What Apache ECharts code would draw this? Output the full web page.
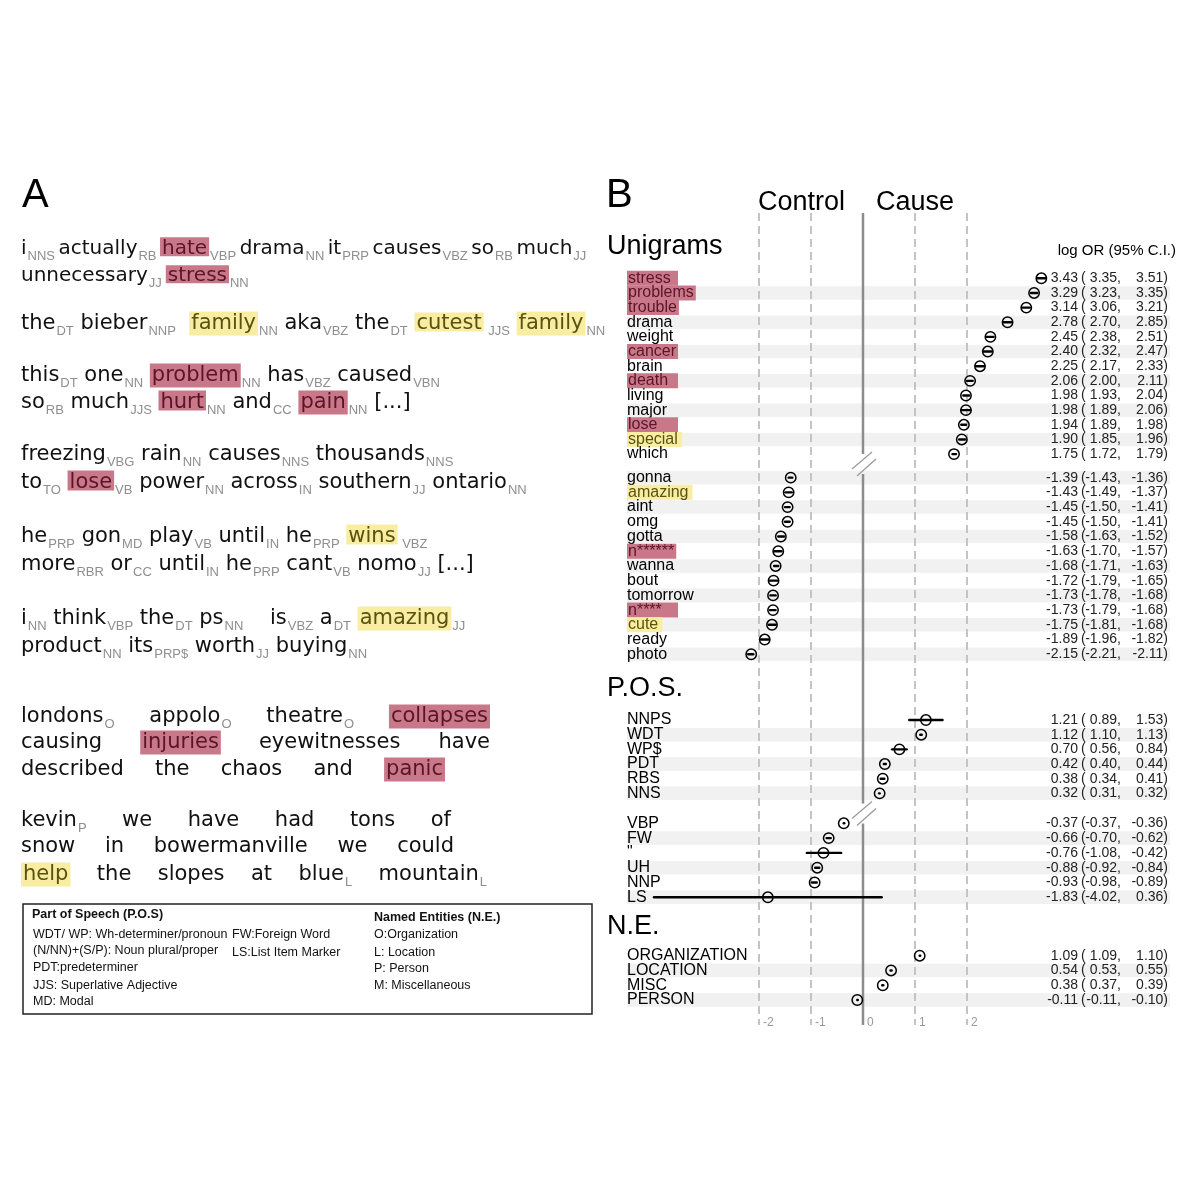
<!DOCTYPE html>
<html><head><meta charset="utf-8">
<script src="https://cdn.jsdelivr.net/npm/echarts@6/dist/echarts.min.js"></script>
<style>html,body{margin:0;padding:0;background:#fff}#c{width:1200px;height:1200px}</style>
</head><body><div id="c"></div>
<script>
// ================= DATA: Panel B =================
const uniPosLabels = ['stress','problems','trouble','drama','weight','cancer','brain','death','living','major','lose','special','which'];
const uniPosEst = [3.43,3.29,3.14,2.78,2.45,2.40,2.25,2.06,1.98,1.98,1.94,1.90,1.75];
const uniPosLo  = [3.35,3.23,3.06,2.70,2.38,2.32,2.17,2.00,1.93,1.89,1.89,1.85,1.72];
const uniPosHi  = [3.51,3.35,3.21,2.85,2.51,2.47,2.33,2.11,2.04,2.06,1.98,1.96,1.79];
const uniPosHl  = ['r','r','r','','','r','','r','','','r','y',''];

const uniNegLabels = ['gonna','amazing','aint','omg','gotta','n******','wanna','bout','tomorrow','n****','cute','ready','photo'];
const uniNegEst = [-1.39,-1.43,-1.45,-1.45,-1.58,-1.63,-1.68,-1.72,-1.73,-1.73,-1.75,-1.89,-2.15];
const uniNegLo  = [-1.43,-1.49,-1.50,-1.50,-1.63,-1.70,-1.71,-1.79,-1.78,-1.79,-1.81,-1.96,-2.21];
const uniNegHi  = [-1.36,-1.37,-1.41,-1.41,-1.52,-1.57,-1.63,-1.65,-1.68,-1.68,-1.68,-1.82,-2.11];
const uniNegHl  = ['','y','','','','r','','','','r','y','',''];

const posPosLabels = ['NNPS','WDT','WP$','PDT','RBS','NNS'];
const posPosEst = [1.21,1.12,0.70,0.42,0.38,0.32];
const posPosLo  = [0.89,1.10,0.56,0.40,0.34,0.31];
const posPosHi  = [1.53,1.13,0.84,0.44,0.41,0.32];

const posNegLabels = ['VBP','FW','"','UH','NNP','LS'];
const posNegEst = [-0.37,-0.66,-0.76,-0.88,-0.93,-1.83];
const posNegLo  = [-0.37,-0.70,-1.08,-0.92,-0.98,-4.02];
const posNegHi  = [-0.36,-0.62,-0.42,-0.84,-0.89,0.36];

const neLabels = ['ORGANIZATION','LOCATION','MISC','PERSON'];
const neEst = [1.09,0.54,0.38,-0.11];
const neLo  = [1.09,0.53,0.37,-0.11];
const neHi  = [1.10,0.55,0.39,-0.10];

const axisTicks = [-2,-1,0,1,2];

// ================= DATA: Panel A (token = [word, tag, highlight]) =================
const textLinesA = [
  [['i','NNS'],['actually','RB'],['hate','VBP','r'],['drama','NN'],['it','PRP'],['causes','VBZ'],['so','RB'],['much','JJ']],
  [['unnecessary','JJ'],['stress','NN','r']],
  [['the','DT'],['bieber','NNP'],[' family','NN','y'],['aka','VBZ'],['the','DT'],['cutest',' JJS','y'],['family','NN','y']],
  [['this','DT'],['one','NN'],['problem','NN','r'],['has','VBZ'],['caused','VBN']],
  [['so','RB'],['much','JJS'],['hurt','NN','r'],['and','CC'],['pain','NN','r'],['[...]','']],
  [['freezing','VBG'],['rain','NN'],['causes','NNS'],['thousands','NNS']],
  [['to','TO'],['lose','VB','r'],['power','NN'],['across','IN'],['southern','JJ'],['ontario','NN']],
  [['he','PRP'],['gon','MD'],['play','VB'],['until','IN'],['he','PRP'],['wins',' VBZ','y']],
  [['more','RBR'],['or','CC'],['until','IN'],['he','PRP'],['cant','VB'],['nomo','JJ'],['[...]','']],
  [['i','NN'],['think','VBP'],['the','DT'],['ps','NN'],['   is','VBZ'],['a','DT'],['amazing','JJ','y']],
  [['product','NN'],['its','PRP$'],['worth','JJ'],['buying','NN']],
  [['londons','O'],['appolo','O'],['theatre','O'],['collapses','','r']],
  [['causing',''],['injuries','','r'],['eyewitnesses',''],['have','']],
  [['described',''],['the',''],['chaos',''],['and',''],['panic','','r']],
  [['kevin','P'],['we',''],['have',''],['had',''],['tons',''],['of','']],
  [['snow',''],['in',''],['bowermanville',''],['we',''],['could','']],
  [['help','','y'],['the',''],['slopes',''],['at',''],['blue','L'],['mountain','L']]
];
const legendPOS = ['WDT/ WP: Wh-determiner/pronoun','(N/NN)+(S/P): Noun plural/proper','PDT:predeterminer','JJS: Superlative Adjective','MD: Modal'];
const legendPOS2 = ['FW:Foreign Word','LS:List Item Marker'];
const legendNE = ['O:Organization','L: Location','P: Person','M: Miscellaneous'];

// ================= LAYOUT / STYLE =================
const SANS = '"Liberation Sans", Arial, sans-serif';
const TAGF = '13px "Liberation Sans"';
const RED = '#c97889', YEL = '#f8eda0';
const RED_T = '#5b1526', YEL_T = '#5a5212';
const lineY = [249,276,324,376,403,455,483,537,565,619,647,717,743,770,821,847,875];
const lineFontPx = [20,20,21,21,21,21,21,21,21,21,21,21,21,21,21,21,21];
const lineGapOverride = {0: 3.5, 1: 4};
const justifyRight = {11:490,12:490,13:445,14:451,15:454,16:487};

const mctx = document.createElement('canvas').getContext('2d');
function meas(t, f){ mctx.font = f; mctx.textBaseline = 'middle'; return mctx.measureText(t); }

const graphics = [];
function txt(text, x, y, font, fill, align){
  graphics.push({type:'text', silent:true, style:{text, x, y, font, fill: fill||'#000',
    textAlign: align||'left', align: align||'left', textVerticalAlign:'middle', verticalAlign:'middle'}});
}
// Panel A text
textLinesA.forEach((tokens, li) => {
  const y = lineY[li];
  const WORDF = lineFontPx[li] + 'px "DejaVu Sans"';
  const x0 = 21;
  const spaceW = meas(' ', WORDF).width;
  const items = tokens.map(([raw, tag, hl]) => {
    const lead = raw.match(/^ */)[0].length;
    const w = raw.slice(lead);
    const m = meas(w, WORDF);
    const tw = tag ? meas(tag, TAGF).width : 0;
    const pad = hl ? 2 : 0;
    return {w, tag, hl, lead: lead * spaceW, ww:m.width, asc:m.actualBoundingBoxAscent, desc:m.actualBoundingBoxDescent, tw, pad,
            total: lead * spaceW + m.width + 2*pad + (tag ? tw + 1 : 0)};
  });
  let gap = lineGapOverride[li] !== undefined ? lineGapOverride[li] : spaceW;
  if (justifyRight[li] !== undefined && items.length > 1) {
    const sum = items.reduce((a, b) => a + b.total, 0);
    gap = (justifyRight[li] - x0 - sum) / (items.length - 1);
  }
  let x = x0;
  items.forEach(it => {
    const xs = x + it.lead;
    if (it.hl) {
      graphics.push({type:'rect', silent:true, shape:{x: xs, y: y - it.asc - 2, width: it.ww + 2*it.pad, height: it.asc + it.desc + 4},
        style:{fill: it.hl === 'r' ? RED : YEL}});
    }
    txt(it.w, xs + it.pad, y, WORDF, it.hl === 'r' ? RED_T : (it.hl === 'y' ? YEL_T : '#111'));
    if (it.tag) txt(it.tag, xs + it.ww + 2*it.pad + 1, y + 7, TAGF, '#8e8e8e');
    x += it.total + gap;
  });
});
// Legend box
graphics.push({type:'rect', silent:true, shape:{x:23, y:904, width:569, height:110}, style:{fill:'none', stroke:'#222', lineWidth:1.5}});
txt('Part of Speech (P.O.S)', 32, 915, 'bold 12.5px ' + SANS, '#111');
legendPOS.forEach((t, i) => txt(t, 33, [935,951,968,986,1002][i], '12.5px ' + SANS, '#111'));
legendPOS2.forEach((t, i) => txt(t, 232, [935,953][i], '12.5px ' + SANS, '#111'));
txt('Named Entities (N.E.)', 374, 918, 'bold 12.5px ' + SANS, '#111');
legendNE.forEach((t, i) => txt(t, 374, [935,953,969,986][i], '12.5px ' + SANS, '#111'));
// Titles
txt('A', 22, 196, '40px ' + SANS, '#000');
txt('B', 606, 196, '40px ' + SANS, '#000');
txt('Control', 758, 203, '27px ' + SANS, '#000');
txt('Cause', 876, 203, '27px ' + SANS, '#000');
txt('Unigrams', 607, 247, '27px ' + SANS, '#000');
txt('log OR (95% C.I.)', 1176, 251, '15px ' + SANS, '#000', 'right');
txt('P.O.S.', 607, 689, '27px ' + SANS, '#000');
txt('N.E.', 607, 927, '27px ' + SANS, '#000');

// ================= Panel B grids =================
const GL = 603, GW = 572;
const sections = [
  {labels: uniPosLabels, est: uniPosEst, lo: uniPosLo, hi: uniPosHi, hl: uniPosHl, top: 271,   height: 190.4, parity: 1},
  {labels: uniNegLabels, est: uniNegEst, lo: uniNegLo, hi: uniNegHi, hl: uniNegHl, top: 470.3, height: 191.3, parity: 0},
  {labels: posPosLabels, est: posPosEst, lo: posPosLo, hi: posPosHi, hl: null,     top: 712.7, height: 88,    parity: 1},
  {labels: posNegLabels, est: posNegEst, lo: posNegLo, hi: posNegHi, hl: null,     top: 815.9, height: 88.8,  parity: 1},
  {labels: neLabels,     est: neEst,     lo: neLo,     hi: neHi,     hl: null,     top: 948.3, height: 59.1,  parity: 1}
];
const frame = {top: 213, height: 812};
const breaks = [464, 813.5];

const grids = [{left: GL, width: GW, top: frame.top, height: frame.height}];
const xAxes = [{gridIndex:0, type:'value', min:-5, max:6, interval:1,
  axisLine:{show:false}, axisTick:{show:false}, splitLine:{show:false},
  axisLabel:{show:true, color:'#999', fontSize:12, fontFamily:SANS, align:'left', padding:[0,0,0,4], margin:-8,
    formatter: v => axisTicks.indexOf(v) >= 0 ? String(v) : ''}}];
const yAxes = [{gridIndex:0, type:'value', min:0, max:1, show:false}];
const series = [];

// frame: reference lines
series.push({type:'custom', xAxisIndex:0, yAxisIndex:0, z:2, silent:true, data:[[0,0]],
  renderItem: (params, api) => {
    const cs = params.coordSys;
    const ch = [];
    axisTicks.filter(t => t !== 0).forEach(t => {
      const x = api.coord([t, 0])[0];
      ch.push({type:'line', shape:{x1:x, y1:cs.y, x2:x, y2:cs.y + cs.height}, style:{stroke:'#c4c4c4', lineWidth:2, lineDash:[8,5]}});
    });
    const x0 = api.coord([0, 0])[0];
    const gap = 10;
    const segs = [[cs.y, breaks[0] - gap], [breaks[0] + gap, breaks[1] - gap], [breaks[1] + gap, cs.y + cs.height]];
    segs.forEach(s => ch.push({type:'line', shape:{x1:x0, y1:s[0], x2:x0, y2:s[1]}, style:{stroke:'#8c8c8c', lineWidth:2.5}}));
    breaks.forEach(yb => {
      ch.push({type:'line', shape:{x1:x0-11, y1:yb+5, x2:x0+9, y2:yb-12}, style:{stroke:'#999', lineWidth:1.2}});
      ch.push({type:'line', shape:{x1:x0-6, y1:yb+12, x2:x0+13, y2:yb-5}, style:{stroke:'#999', lineWidth:1.2}});
    });
    return {type:'group', children: ch};
  }});

const hlWidth = (t) => meas(t, '16px "Liberation Sans"').width;
sections.forEach((s, k) => {
  const gi = k + 1;
  grids.push({left: GL, width: GW, top: s.top, height: s.height});
  xAxes.push({gridIndex: gi, type:'value', min:-5, max:6, show:false});
  yAxes.push({gridIndex: gi, type:'category', inverse:true, data: s.labels, z: 10,
    axisLine:{show:false}, axisTick:{show:false}, splitLine:{show:false},
    axisLabel:{inside:true, margin:24, fontSize:16, fontFamily:SANS, color:'#000', interval:0,
      formatter: (v, i) => {
        const h = s.hl ? s.hl[i] : '';
        if (!h) return v;
        const narrow = hlWidth(v) < 46;
        return '{' + h + (narrow ? 'n' : '') + '|' + v + '}';
      },
      rich: {
        r:  {backgroundColor: RED, color: RED_T, fontSize:16, fontFamily:SANS, height:15, padding:[0,2,0,1]},
        rn: {backgroundColor: RED, color: RED_T, fontSize:16, fontFamily:SANS, height:15, width:48, padding:[0,2,0,1]},
        y:  {backgroundColor: YEL, color: YEL_T, fontSize:16, fontFamily:SANS, height:15, padding:[0,4,0,1]},
        yn: {backgroundColor: YEL, color: YEL_T, fontSize:16, fontFamily:SANS, height:15, padding:[0,4,0,1]}
      }}});
  const rows = s.labels.map((l, i) => [s.est[i], s.lo[i], s.hi[i], i]);
  // stripes
  series.push({type:'custom', xAxisIndex: gi, yAxisIndex: gi, z:1, silent:true, data: rows,
    encode:{x:[0,1,2], y:3},
    renderItem: (params, api) => {
      const i = api.value(3);
      if (i % 2 !== s.parity) return null;
      const cs = params.coordSys;
      const y = api.coord([0, i])[1];
      const bh = api.size([0, 1])[1];
      return {type:'rect', shape:{x: cs.x + 24, y: y - bh * 0.46, width: cs.width - 29, height: bh * 0.92}, style:{fill:'#f1f1f1'}};
    }});
  // estimates
  series.push({type:'custom', xAxisIndex: gi, yAxisIndex: gi, z:3, silent:true, data: rows,
    encode:{x:[0,1,2], y:3},
    renderItem: (params, api) => {
      const est = api.value(0), lo = api.value(1), hi = api.value(2), i = api.value(3);
      const p = api.coord([est, i]), pl = api.coord([lo, i]), ph = api.coord([hi, i]);
      const cs = params.coordSys, R = cs.x + cs.width;
      const f = '14px ' + SANS;
      const T = (t, x, al) => ({type:'text', style:{text:t, x, y:p[1], font:f, fill:'#222', textAlign:al, align:al, textVerticalAlign:'middle', verticalAlign:'middle'}});
      return {type:'group', children:[
        {type:'line', shape:{x1:pl[0], y1:p[1], x2:ph[0], y2:p[1]}, style:{stroke:'#000', lineWidth:2.4, lineCap:'round'}},
        {type:'circle', shape:{cx:p[0], cy:p[1], r:5.2}, style:{fill:'none', stroke:'#000', lineWidth:1.5}},
        T(est.toFixed(2), R - 97, 'right'),
        T('(', R - 94, 'left'),
        T(lo.toFixed(2) + ',', R - 54, 'right'),
        T(hi.toFixed(2) + ')', R - 7, 'right')
      ]};
    }});
});

const chart = echarts.init(document.getElementById('c'), null, {renderer:'canvas'});
chart.setOption({
  backgroundColor:'#fff', animation:false,
  grid: grids, xAxis: xAxes, yAxis: yAxes, series,
  graphic: {elements: graphics}
});
</script></body></html>
